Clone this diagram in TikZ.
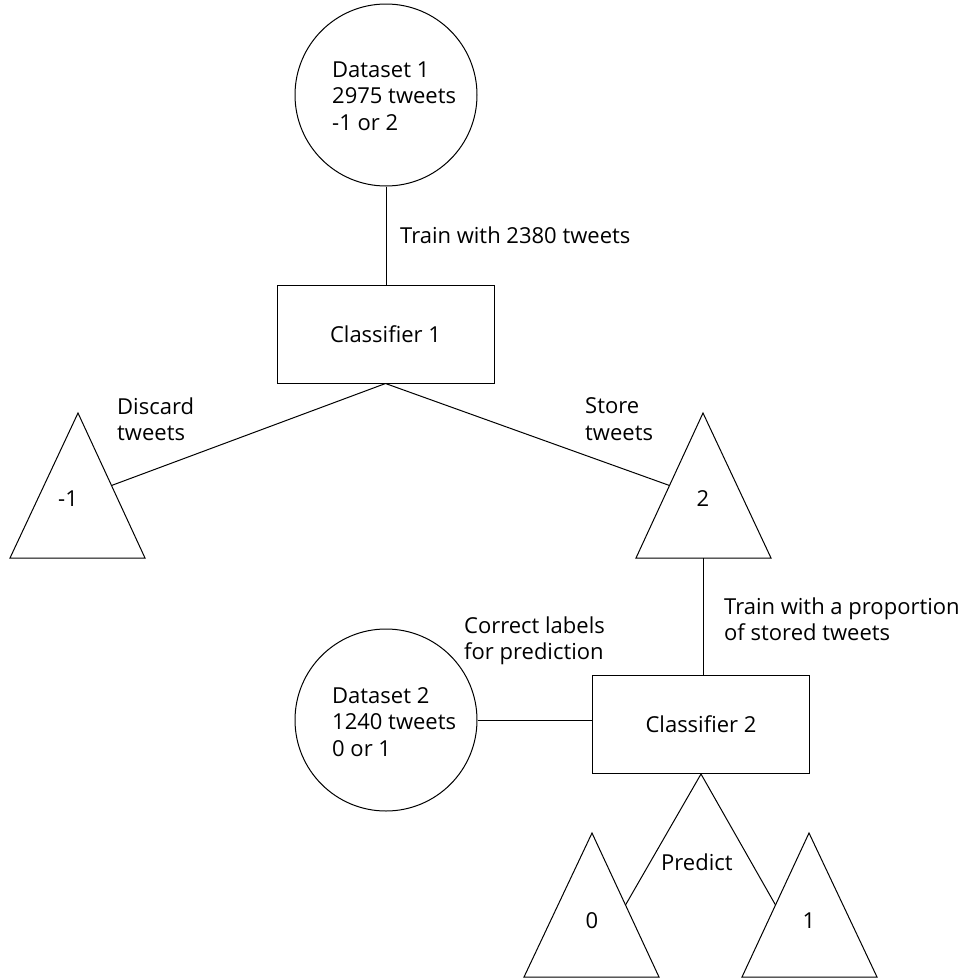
\documentclass[tikz,border=0pt]{standalone}
\usepackage{fontspec}
\setmainfont{Open Sans}
\usetikzlibrary{calc}
\begin{document}
\begin{tikzpicture}[x=1pt,y=-1pt,
  every node/.style={font=\fontsize{22}{26.5}\selectfont, inner sep=0pt},
  ln/.style={line width=1pt, black},
  circ/.style={draw, ln, circle, minimum size=182pt},
  box/.style={draw, ln, minimum width=217pt, minimum height=98pt},
  txt/.style={anchor=west, align=left}]
\useasboundingbox (0,0) rectangle (968,980);
% dataset 1
\node[circ] (d1) at (386,95) {};
\node[txt] (d1t) at (332,96) {Dataset 1\\2975 tweets\\-1 or 2};
% classifier 1
\node[box] (c1) at (385.5,334) {Classifier 1};
\draw[ln] (d1.south) -- (d1.south |- c1.north);
\node[txt] (l1) at (400,235) {Train with 2380 tweets};
% triangle -1
\coordinate (La) at (78,413);
\coordinate (Ll) at (10,558);
\coordinate (Lr) at (145,558);
\draw[ln] (La) -- (Lr) -- (Ll) -- cycle;
\node (Lt) at (68,499) {-1};
\coordinate (Lhit) at ($(La)!0.5!(Lr)$);
% triangle 2
\coordinate (Ra) at (703,413);
\coordinate (Rl) at (636,558);
\coordinate (Rr) at (771,558);
\draw[ln] (Ra) -- (Rr) -- (Rl) -- cycle;
\node (Rt) at (703,499) {2};
\coordinate (Rhit) at ($(Ra)!0.5!(Rl)$);
\coordinate (Rbot) at ($(Rl)!0.5!(Rr)$);
% connectors from classifier 1
\draw[ln] (c1.south) -- (Lhit);
\draw[ln] (c1.south) -- (Rhit);
\node[txt] (l2) at (117,419) {Discard\\tweets};
\node[txt] (l3) at (585,419) {Store\\tweets};
% classifier 2
\node[box] (c2) at (701,724.5) {Classifier 2};
\draw[ln] (Rbot) -- (Rbot |- c2.north);
\node[txt] (l4) at (724,619) {Train with a proportion\\of stored tweets};
% dataset 2
\node[circ] (d2) at (386,720) {};
\node[txt] (d2t) at (332,722) {Dataset 2\\1240 tweets\\0 or 1};
\draw[ln] (d2.east) -- (d2.east -| c2.west);
\node[txt] (l5) at (464,641) {Correct labels\\for prediction};
% triangle 0
\coordinate (Aa) at (592,833);
\coordinate (Al) at (524,977);
\coordinate (Ar) at (659,977);
\draw[ln] (Aa) -- (Ar) -- (Al) -- cycle;
\node (At) at (592,921) {0};
\coordinate (Ahit) at ($(Aa)!0.5!(Ar)$);
% triangle 1
\coordinate (Ba) at (809,833);
\coordinate (Bl) at (742,977);
\coordinate (Br) at (877,977);
\draw[ln] (Ba) -- (Br) -- (Bl) -- cycle;
\node (Bt) at (809,921) {1};
\coordinate (Bhit) at ($(Ba)!0.5!(Bl)$);
\draw[ln] (c2.south) -- (Ahit);
\draw[ln] (c2.south) -- (Bhit);
\node[txt] (l6) at (661,862) {Predict};
\end{tikzpicture}
\end{document}
